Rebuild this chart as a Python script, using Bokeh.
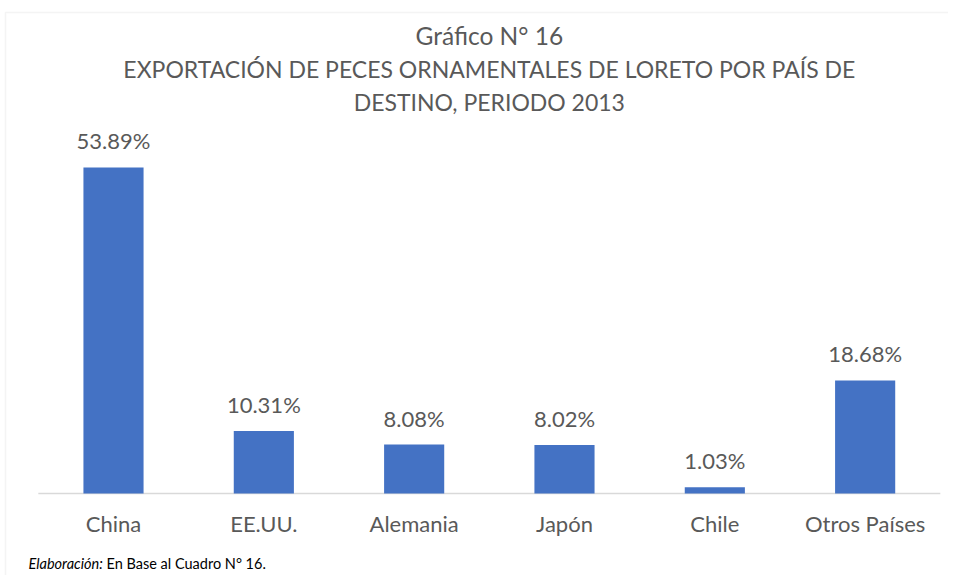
from bokeh.plotting import figure
from bokeh.models import Range1d, ColumnDataSource, BoxAnnotation
from bokeh.core.properties import value
from bokeh.embed import file_html
from bokeh.resources import INLINE

countries = ["China", "EE.UU.", "Alemania", "Japón", "Chile", "Otros Países"]
shares = [53.89, 10.31, 8.08, 8.02, 1.03, 18.68]
share_labels = ["53.89%", "10.31%", "8.08%", "8.02%", "1.03%", "18.68%"]

title_lines = ["Gráfico N° 16",
               "EXPORTACIÓN DE PECES ORNAMENTALES DE LORETO POR PAÍS DE",
               "DESTINO, PERIODO 2013"]
footer_italic = "Elaboración:"
footer_text = "En Base al Cuadro N° 16."

FONT = "Lato"
GREY = "#595959"

W, H = 948, 575
px_per_cat = 150.33
px_per_unit = 6.05
base_px = 493
first_px = 113

xs = list(range(len(countries)))
x0 = -first_px / px_per_cat
x1 = x0 + W / px_per_cat
y1 = base_px / px_per_unit
y0 = -(H - base_px) / px_per_unit

src = ColumnDataSource(dict(x=xs, y=shares, lab=share_labels, cat=countries,
                            zero=[0] * len(xs)))

p = figure(x_range=Range1d(x0, x1), y_range=Range1d(y0, y1), width=W, height=H,
           output_backend="svg", toolbar_location=None,
           min_border=0, min_border_left=0, min_border_right=0,
           min_border_top=0, min_border_bottom=0)
p.outline_line_color = None
p.xgrid.grid_line_color = None
p.ygrid.grid_line_color = None
p.xaxis.visible = False
p.yaxis.visible = False

# chart-area border (left and top edges visible as in the reference)
p.add_layout(BoxAnnotation(left=x0 + 5 / px_per_cat, right=x1 + 5,
                           top=y1 - 12 / px_per_unit, bottom=y0 - 50,
                           fill_alpha=0, line_color="#d9d9d9", line_width=1.5))

# baseline (category axis line)
p.segment(x0=-0.5, x1=len(xs) - 0.5, y0=0, y1=0, line_color="#d9d9d9",
          line_width=1.5)

p.vbar(x="x", top="y", width=0.4, source=src, color="#4472C4", line_color=None)
p.text(x="x", y="y", text="lab", source=src, y_offset=-13,
       text_align="center", text_baseline="bottom",
       text_font=value(FONT), text_font_size="22px", text_color=GREY)

# category labels
p.text(x="x", y="zero", text="cat", source=src, y_offset=30,
       text_align="center", text_baseline="middle",
       text_font=value(FONT), text_font_size="22px", text_color=GREY)

# titles
cx = (len(xs) - 1) / 2
for txt, py, sz in zip(title_lines, [35, 68, 101], ["24.5px", "23px", "23px"]):
    p.text(x=[cx], y=[(base_px - py) / px_per_unit], text=[txt],
           text_align="center", text_baseline="middle",
           text_font=value(FONT), text_font_size=sz, text_color=GREY)

# footer
fy = (base_px - 563) / px_per_unit
fx = x0 + 28 / px_per_cat
p.text(x=[fx], y=[fy], text=[footer_italic], text_align="left",
       text_baseline="middle", text_font=value(FONT),
       text_font_style="italic", text_font_size="14.5px", text_color="#000000")
p.text(x=[fx], y=[fy], text=[footer_text], x_offset=78, text_align="left",
       text_baseline="middle", text_font=value(FONT),
       text_font_size="14.5px", text_color="#000000")

open("out.html", "w").write(file_html(p, INLINE))
